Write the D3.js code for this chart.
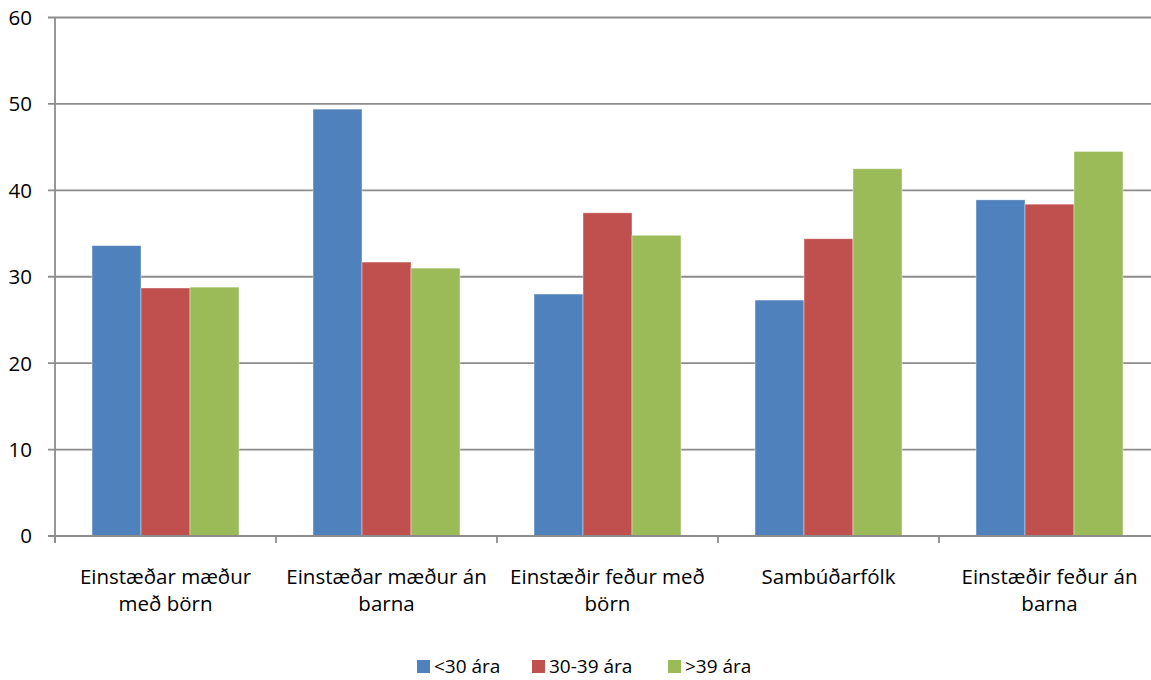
<!DOCTYPE html>
<html><head><meta charset="utf-8">
<script src="https://cdn.jsdelivr.net/npm/d3@7"></script>
<style>body{margin:0;background:#fff}svg{display:block;font-family:"Open Sans",Lato,sans-serif}</style>
</head><body><svg id="c" width="1151" height="680"></svg>
<script>
const categories = [["Einstæðar mæður","með börn"],["Einstæðar mæður án","barna"],["Einstæðir feður með","börn"],["Sambúðarfólk"],["Einstæðir feður án","barna"]];
const seriesNames = ["<30 ára","30-39 ára",">39 ára"];
const under30 = [33.6, 49.4, 28.0, 27.3, 38.9];
const age30to39 = [28.7, 31.7, 37.4, 34.4, 38.4];
const over39 = [28.8, 31.0, 34.8, 42.5, 44.5];
const colors = ["#4F81BD","#C0504D","#9BBB59"];
const yTicks = [0,10,20,30,40,50,60];

const series = [under30, age30to39, over39];
const svg = d3.select("#c");
const pLeft = 55, pRight = 1160, pTop = 17.5, pBottom = 536;
const fs = 20.5;
const x = d3.scaleBand().domain(d3.range(categories.length)).range([pLeft, pRight]).paddingInner(0).paddingOuter(0);
const y = d3.scaleLinear().domain([0,60]).range([pBottom, pTop]);
const groupW = x.bandwidth() * 0.665;
const xs = d3.scaleBand().domain(d3.range(series.length)).range([0, groupW]);

// gridlines
svg.append("g").selectAll("line").data(yTicks).join("line")
  .attr("x1", pLeft - 7).attr("x2", pRight).attr("y1", d => y(d)).attr("y2", d => y(d))
  .attr("stroke", "#8c8c8c").attr("stroke-width", 1.8);

// y labels
svg.append("g").selectAll("text").data(yTicks).join("text")
  .attr("x", 32).attr("y", d => y(d)).attr("dy", "0.36em").attr("text-anchor", "end")
  .attr("font-size", fs).attr("fill", "#000").text(d => d);

// bars
series.forEach((s, si) => {
  svg.append("g").selectAll("rect").data(s).join("rect")
    .attr("x", (d, i) => x(i) + (x.bandwidth() - groupW) / 2 + xs(si))
    .attr("width", xs.bandwidth())
    .attr("y", d => y(d)).attr("height", d => y(0) - y(d))
    .attr("fill", colors[si]).attr("stroke", "rgba(255,255,255,0.5)").attr("stroke-width", 0.8);
});

// y axis line
svg.append("line").attr("x1", pLeft).attr("x2", pLeft).attr("y1", pTop).attr("y2", pBottom + 7)
  .attr("stroke", "#8c8c8c").attr("stroke-width", 1.8);
// x axis line
svg.append("line").attr("x1", pLeft - 7).attr("x2", pRight).attr("y1", pBottom).attr("y2", pBottom)
  .attr("stroke", "#8c8c8c").attr("stroke-width", 1.8);
// x ticks at boundaries
svg.append("g").selectAll("line").data(d3.range(categories.length + 1)).join("line")
  .attr("x1", i => pLeft + i * x.bandwidth()).attr("x2", i => pLeft + i * x.bandwidth())
  .attr("y1", pBottom).attr("y2", pBottom + 7).attr("stroke", "#8c8c8c").attr("stroke-width", 1.8);

// category labels
categories.forEach((lines, i) => {
  const t = svg.append("text").attr("text-anchor", "middle").attr("font-size", fs).attr("fill", "#000");
  lines.forEach((ln, li) => {
    t.append("tspan").attr("x", x(i) + x.bandwidth() / 2).attr("y", 584 + li * 27).text(ln);
  });
});

// legend
const legX = [417, 532, 668];
seriesNames.forEach((n, i) => {
  svg.append("rect").attr("x", legX[i]).attr("y", 660).attr("width", 13).attr("height", 13).attr("fill", colors[i]);
  svg.append("text").attr("x", legX[i] + 17).attr("y", 673)
    .attr("font-size", 19).attr("fill", "#000").text(n);
});
</script></body></html>
